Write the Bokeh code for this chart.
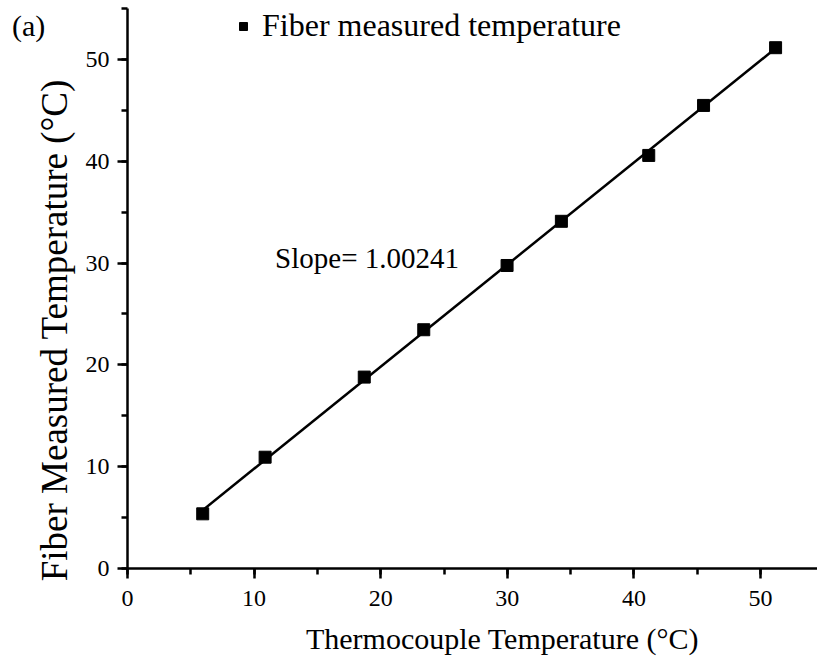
from bokeh.plotting import figure
from bokeh.models import Range1d, SingleIntervalTicker, Legend, LegendItem, Label, Div
from bokeh.layouts import column
from bokeh.embed import file_html
from bokeh.resources import INLINE
import numpy as np

# Data
thermocouple_temp = [5.94, 10.87, 18.7, 23.4, 29.98, 34.27, 41.17, 45.5, 51.19]
fiber_temp = [5.37, 10.93, 18.8, 23.45, 29.76, 34.1, 40.57, 45.48, 51.15]
fit_slope = 1.00241
x_ticks_interval = 10
y_ticks_interval = 10

xs = np.array(thermocouple_temp)
ys = np.array(fiber_temp)
intercept = ys.mean() - fit_slope * xs.mean()
fit_x = np.array([xs.min(), xs.max()])
fit_y = intercept + fit_slope * fit_x

FONT = "Liberation Serif"
NB = "\u00a0"

p = figure(width=817, height=667, output_backend="svg", toolbar_location=None,
           x_range=Range1d(0, 54.5), y_range=Range1d(0, 55),
           min_border_left=127, min_border_right=0, min_border_top=8, min_border_bottom=99)
p.outline_line_color = None
p.xgrid.visible = False
p.ygrid.visible = False
p.background_fill_color = "white"

p.line(fit_x, fit_y, line_color="black", line_width=2.5)
r = p.scatter(thermocouple_temp, fiber_temp, marker="square", size=12,
              fill_color="black", line_color="black")

for ax, interval in ((p.xaxis[0], x_ticks_interval), (p.yaxis[0], y_ticks_interval)):
    ax.ticker = SingleIntervalTicker(interval=interval, num_minor_ticks=2)
    ax.axis_line_width = 2.5
    ax.major_tick_line_width = 2.5
    ax.minor_tick_line_width = 2.5
    ax.major_tick_out = 10
    ax.major_tick_in = 0
    ax.minor_tick_out = 6
    ax.minor_tick_in = 0
    ax.major_label_text_font = FONT
    ax.major_label_text_font_size = "24px"
    ax.major_label_text_color = "black"
    ax.axis_label_text_font = FONT
    ax.axis_label_text_font_style = "normal"
    ax.axis_label_text_color = "black"

p.xaxis.axis_label = NB * 8 + "Thermocouple Temperature (°C)"
p.xaxis.axis_label_text_font_size = "30px"
p.xaxis.major_label_standoff = 12
p.xaxis.axis_label_standoff = 13

p.yaxis.axis_label = "Fiber Measured Temperature (°C)" + NB * 9
p.yaxis.axis_label_text_font_size = "37px"
p.yaxis.major_label_standoff = 8
p.yaxis.axis_label_standoff = 8

legend = Legend(items=[LegendItem(label="Fiber measured temperature", renderers=[r])],
                location=(106, 524), orientation="vertical",
                border_line_alpha=0, background_fill_alpha=0,
                label_text_font=FONT, label_text_font_size="32px", label_text_color="black",
                glyph_width=20, glyph_height=20, label_standoff=9,
                padding=0, margin=0)
p.add_layout(legend)

p.add_layout(Label(x=11.66, y=30.45, text="Slope= 1.00241", text_font=FONT,
                   text_font_size="29px", text_baseline="middle", text_color="black"))

tag = Div(text="(a)", styles={"position": "absolute", "left": "12px", "top": "9px",
                              "font-family": FONT, "font-size": "30px", "color": "black",
                              "line-height": "1.15", "z-index": "5", "margin": "0"})

layout = column(tag, p, spacing=0)
open("out.html", "w").write(file_html(layout, INLINE))
